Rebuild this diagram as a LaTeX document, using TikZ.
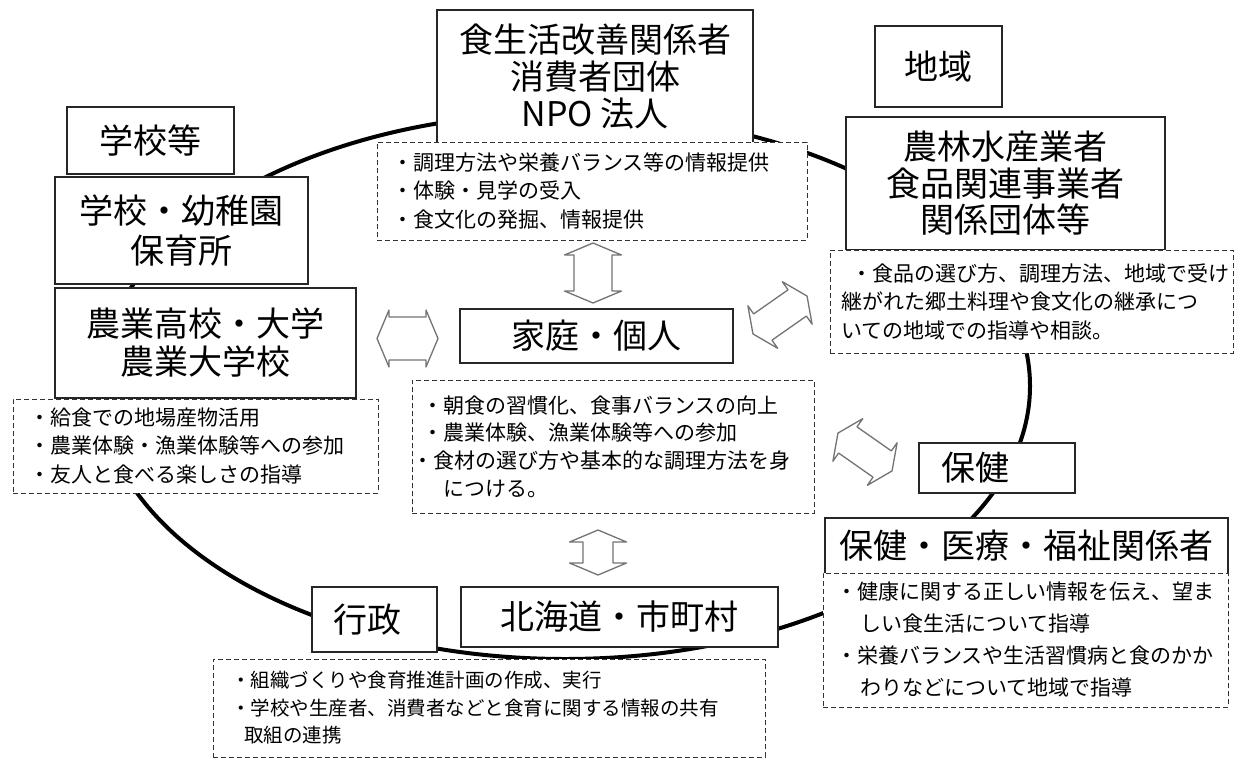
\documentclass[tikz,border=0pt]{standalone}
\usepackage{fontspec}
\setmainfont{Noto Sans CJK JP}
\begin{document}
\begin{tikzpicture}[x=1pt,y=-1pt,
  box/.style={draw=black!85, line width=1.2pt, fill=white, inner sep=0pt, align=center,
    font=\fontsize{34}{37}\selectfont},
  dbox/.style={draw=black!80, dash pattern=on 5pt off 3pt, line width=1pt, fill=white,
    align=left, inner ysep=0pt, font=\fontsize{21}{28.5}\selectfont},
  arrowline/.style={draw=black!55, line width=1.3pt, fill=white, line join=round},
  pics/dbl/.style n args={4}{code={
    \draw[arrowline] (-#1,0) -- (-#1+#2,#3) -- (-#1+#2,#4) -- (#1-#2,#4) -- (#1-#2,#3)
      -- (#1,0) -- (#1-#2,-#3) -- (#1-#2,-#4) -- (-#1+#2,-#4) -- (-#1+#2,-#3) -- cycle;}}]
\useasboundingbox (0,0) rectangle (1236,760);
\fill[white] (0,0) rectangle (1236,760);

% big ring
\draw[line width=4pt] (565,386) ellipse [x radius=465, y radius=273];

% top group
\node[box, minimum width=316pt, minimum height=133pt] (top) at (595,76.5)
  {食生活改善関係者\\消費者団体\\NPO 法人};
\node[dbox, minimum height=98pt, text width=400pt, inner xsep=15pt] (topd) at (592,191)
  {・調理方法や栄養バランス等の情報提供\\・体験・見学の受入\\・食文化の発掘、情報提供};

% school group
\node[box, minimum width=167pt, minimum height=67pt] (schlabel) at (150.5,140.5) {学校等};
\node[box, minimum width=253pt, minimum height=107pt, font=\fontsize{34}{40}\selectfont] (school) at (181.5,230.5)
  {学校・幼稚園\\保育所};
\node[box, minimum width=301pt, minimum height=110pt, font=\fontsize{34}{38}\selectfont] (agri) at (205.5,343)
  {農業高校・大学\\農業大学校};
\node[dbox, minimum height=94pt, text width=333pt, inner xsep=16pt] (leftd) at (195.5,446)
  {・給食での地場産物活用\\・農業体験・漁業体験等への参加\\・友人と食べる楽しさの指導};

% region group
\node[box, minimum width=127pt, minimum height=81pt] (region) at (938.5,66.5) {地域};
\node[box, minimum width=319pt, minimum height=133pt, font=\fontsize{34}{36.5}\selectfont] (farm) at (1005.5,183.5)
  {農林水産業者\\食品関連事業者\\関係団体等};
\node[dbox, minimum height=103pt, text width=381pt, inner xsep=11pt] (farmd) at (1031.5,301.5)
  {\hspace*{10pt}・食品の選び方、調理方法、地域で受け\\継がれた郷土料理や食文化の継承につ\\いての地域での指導や相談。};

% home
\node[box, minimum width=273pt, minimum height=54pt] (home) at (596.5,336) {家庭・個人};
\node[dbox, minimum height=133pt, text width=382pt, inner xsep=10pt, font=\fontsize{21}{27.7}\selectfont] (homed) at (613,446.5)
  {・朝食の習慣化、食事バランスの向上\\・農業体験、漁業体験等への参加\\\hspace*{-10pt}・食材の選び方や基本的な調理方法を身\\\hspace*{21pt}につける。};

% health group
\node[box, minimum width=156pt, minimum height=50pt] (health) at (997,468) {保健\hspace*{44pt}};
\node[box, minimum width=403pt, minimum height=56pt] (med) at (1026.5,546) {保健・医療・福祉関係者};
\node[dbox, minimum height=134pt, text width=379pt, inner xsep=13pt, font=\fontsize{21}{32}\selectfont] (medd) at (1025.5,640)
  {・健康に関する正しい情報を伝え、望ま\\\hspace*{24pt}しい食生活について指導\\・栄養バランスや生活習慣病と食のかか\\\hspace*{24pt}わりなどについて地域で指導};

% government group
\node[box, minimum width=125pt, minimum height=65pt] (gov) at (374.5,619.5) {行政\hspace*{14pt}};
\node[box, minimum width=317pt, minimum height=60pt] (hokkaido) at (619.5,617) {北海道・市町村};
\node[dbox, minimum height=98pt, text width=516pt, inner xsep=18pt, font=\fontsize{19.5}{27.5}\selectfont] (govd) at (489,708)
  {・組織づくりや食育推進計画の作成、実行\\・学校や生産者、消費者などと食育に関する情報の共有\\\hspace*{13pt}取組の連携};

% block arrows
\pic[rotate=90] at (593,273) {dbl={30}{12}{28.5}{19}};
\pic at (407.5,338.5) {dbl={30.5}{12}{28.5}{21.5}};
\pic[rotate=90] at (598,552.5) {dbl={22.5}{12}{28.5}{15}};
\pic[rotate=35] at (780,315) {dbl={33}{12}{26}{16}};
\pic[rotate=-35] at (865,452) {dbl={33}{12}{26}{16}};
\end{tikzpicture}
\end{document}
